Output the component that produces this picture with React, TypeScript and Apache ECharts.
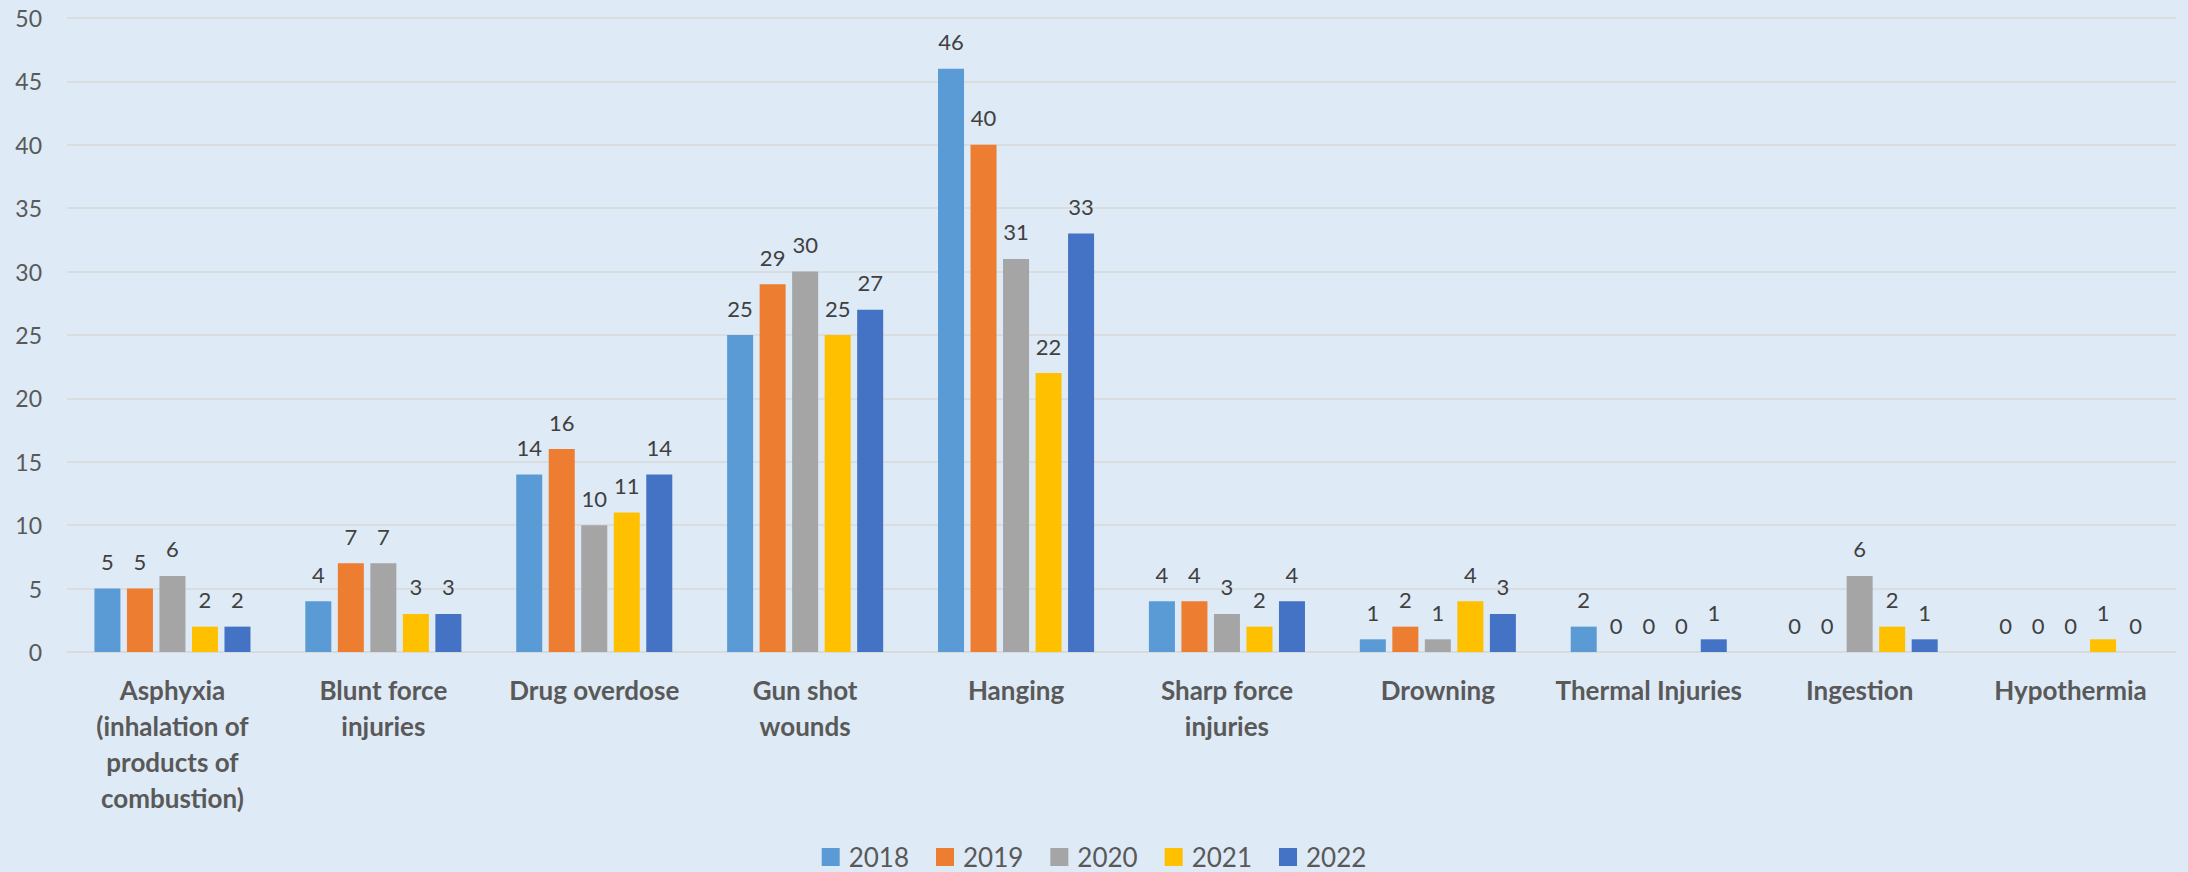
import React, { useEffect, useRef } from "react";
import * as echarts from "echarts";

const categories = [
  "Asphyxia\n(inhalation of\nproducts of\ncombustion)",
  "Blunt force\ninjuries",
  "Drug overdose",
  "Gun shot\nwounds",
  "Hanging",
  "Sharp force\ninjuries",
  "Drowning",
  "Thermal Injuries",
  "Ingestion",
  "Hypothermia",
];
const years = ["2018", "2019", "2020", "2021", "2022"];
const v2018 = [5, 4, 14, 25, 46, 4, 1, 2, 0, 0];
const v2019 = [5, 7, 16, 29, 40, 4, 2, 0, 0, 0];
const v2020 = [6, 7, 10, 30, 31, 3, 1, 0, 6, 0];
const v2021 = [2, 3, 11, 25, 22, 2, 4, 0, 2, 1];
const v2022 = [2, 3, 14, 27, 33, 4, 3, 1, 1, 0];
const seriesValues = [v2018, v2019, v2020, v2021, v2022];
const colors = ["#5B9BD5", "#ED7D31", "#A5A5A5", "#FFC000", "#4472C4"];
const yTicks = { min: 0, max: 50, interval: 5 };

const FONT = "Lato, 'Open Sans', sans-serif";

export default function App() {
  const ref = useRef<HTMLDivElement>(null);
  useEffect(() => {
    document.body.style.margin = "0";
    const chart = echarts.init(ref.current!, null, { renderer: "svg" });
    chart.setOption({
      animation: false,
      backgroundColor: "#DEEAF6",
      textStyle: { fontFamily: FONT },
      grid: { left: 67, right: 12, top: 18, bottom: 220, containLabel: false },
      legend: {
        top: 844,
        left: "center",
        icon: "rect",
        itemWidth: 18,
        itemHeight: 18,
        itemGap: 27,
        padding: 0,
        data: years,
        textStyle: {
          fontSize: 26,
          lineHeight: 26,
          color: "#595959",
          fontFamily: FONT,
          padding: [0, 0, 0, 4],
        },
      },
      xAxis: {
        type: "category",
        data: categories,
        axisTick: { show: false },
        axisLine: { lineStyle: { color: "#D9D9D9", width: 1.5 } },
        axisLabel: {
          interval: 0,
          margin: 20,
          fontSize: 26,
          fontWeight: "bold",
          lineHeight: 36,
          color: "#595959",
          fontFamily: FONT,
          verticalAlign: "top",
        },
      },
      yAxis: {
        type: "value",
        min: yTicks.min,
        max: yTicks.max,
        interval: yTicks.interval,
        axisLine: { show: false },
        axisTick: { show: false },
        splitLine: { lineStyle: { color: "#D9D9D9", width: 1.5 } },
        axisLabel: {
          margin: 25,
          fontSize: 23,
          color: "#595959",
          fontFamily: FONT,
        },
      },
      series: years.map((y, i) => ({
        name: y,
        type: "bar",
        data: seriesValues[i],
        barGap: "25%",
        barCategoryGap: "26%",
        itemStyle: { color: colors[i] },
        label: {
          show: true,
          position: "top",
          distance: 16,
          fontSize: 22,
          color: "#404040",
          fontFamily: FONT,
        },
      })),
    });
    return () => chart.dispose();
  }, []);
  return (
    <div
      ref={ref}
      style={{ position: "absolute", left: 0, top: 0, width: 2188, height: 872 }}
    />
  );
}
